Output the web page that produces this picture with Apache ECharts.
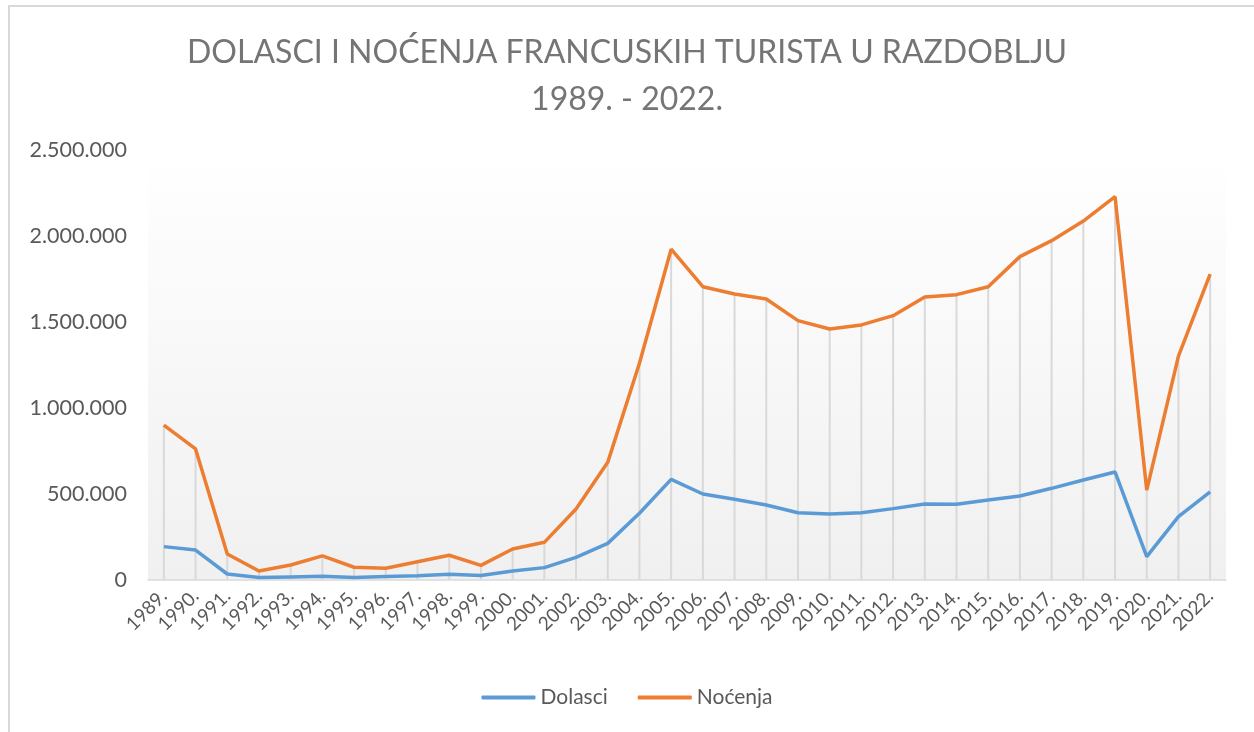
<!DOCTYPE html>
<html>
<head>
<meta charset="utf-8">
<script src="https://cdn.jsdelivr.net/npm/echarts@6/dist/echarts.min.js"></script>
<style>
    html, body { margin: 0; padding: 0; background: #fff; }
    #frame {
        position: absolute; left: 8px; top: 5px; width: 1260px; height: 740px;
        border-left: 2px solid #d9d9d9; border-top: 2px solid #d9d9d9;
    }
    #chart { position: absolute; left: 0; top: 0; width: 1254px; height: 732px; }
</style>
</head>
<body>
<div id="frame"></div>
<div id="chart"></div>
<script>
// godine
const years = ['1989.', '1990.', '1991.', '1992.', '1993.', '1994.', '1995.', '1996.', '1997.', '1998.',
    '1999.', '2000.', '2001.', '2002.', '2003.', '2004.', '2005.', '2006.', '2007.', '2008.',
    '2009.', '2010.', '2011.', '2012.', '2013.', '2014.', '2015.', '2016.', '2017.', '2018.',
    '2019.', '2020.', '2021.', '2022.'];

// dolasci
const dolasci = [194000, 174000, 35000, 14000, 18000, 22000, 15000, 20000, 25000, 33000,
    26000, 52000, 72000, 132000, 213000, 388000, 585000, 500000, 469000, 436000,
    391000, 384000, 391000, 415000, 442000, 440000, 465000, 488000, 533000, 581000,
    628000, 136000, 368000, 513000];

// noćenja
const nocenja = [900000, 762000, 151000, 52000, 87000, 140000, 74000, 68000, 106000, 144000,
    85000, 180000, 219000, 413000, 684000, 1260000, 1923000, 1705000, 1663000, 1634000,
    1508000, 1459000, 1483000, 1537000, 1646000, 1659000, 1705000, 1880000, 1973000, 2087000,
    2229000, 523000, 1302000, 1779000];

const FONT = 'Lato, "Open Sans", sans-serif';

function fmtDots(v) {
    return String(v).replace(/\B(?=(\d{3})+(?!\d))/g, '.');
}

const chart = echarts.init(document.getElementById('chart'));

chart.setOption({
    animation: false,
    title: {
        text: 'DOLASCI I NOĆENJA FRANCUSKIH TURISTA U RAZDOBLJU\n1989. - 2022.',
        left: 'center',
        top: 24,
        textStyle: {
            fontFamily: FONT,
            fontWeight: 'normal',
            fontSize: 32,
            color: '#757575',
            lineHeight: 47
        }
    },
    legend: {
        data: ['Dolasci', 'Noćenja'],
        bottom: 19,
        left: 'center',
        itemWidth: 54,
        itemHeight: 4,
        itemGap: 30,
        icon: 'roundRect',
        textStyle: { fontFamily: FONT, fontSize: 21, color: '#595959' }
    },
    grid: {
        left: 148,
        right: 28,
        top: 150,
        bottom: 152,
        show: true,
        borderWidth: 0,
        backgroundColor: new echarts.graphic.LinearGradient(0, 0, 0, 1, [
            { offset: 0, color: '#ffffff' },
            { offset: 1, color: '#f0f0f0' }
        ])
    },
    xAxis: {
        type: 'category',
        data: years,
        boundaryGap: true,
        axisLine: { lineStyle: { color: '#d9d9d9', width: 1.5 } },
        axisTick: { show: false },
        axisLabel: {
            rotate: 45,
            interval: 0,
            margin: 13,
            fontFamily: FONT,
            fontSize: 19,
            color: '#595959'
        }
    },
    yAxis: {
        type: 'value',
        min: 0,
        max: 2500000,
        interval: 500000,
        axisLine: { show: false },
        axisTick: { show: false },
        splitLine: { show: false },
        axisLabel: {
            margin: 21,
            fontFamily: FONT,
            fontSize: 21.5,
            color: '#595959',
            formatter: fmtDots
        }
    },
    series: [
        {
            // okomite linije do osi
            name: 'drop',
            type: 'bar',
            data: nocenja,
            barWidth: 2,
            itemStyle: { color: '#d9d9d9' },
            silent: true,
            z: 1
        },
        {
            name: 'Dolasci',
            type: 'line',
            data: dolasci,
            symbol: 'none',
            lineStyle: { color: '#5b9bd5', width: 3.5 },
            itemStyle: { color: '#5b9bd5' },
            z: 3
        },
        {
            name: 'Noćenja',
            type: 'line',
            data: nocenja,
            symbol: 'none',
            lineStyle: { color: '#ed7d31', width: 3.5 },
            itemStyle: { color: '#ed7d31' },
            z: 4
        }
    ]
});
</script>
</body>
</html>
